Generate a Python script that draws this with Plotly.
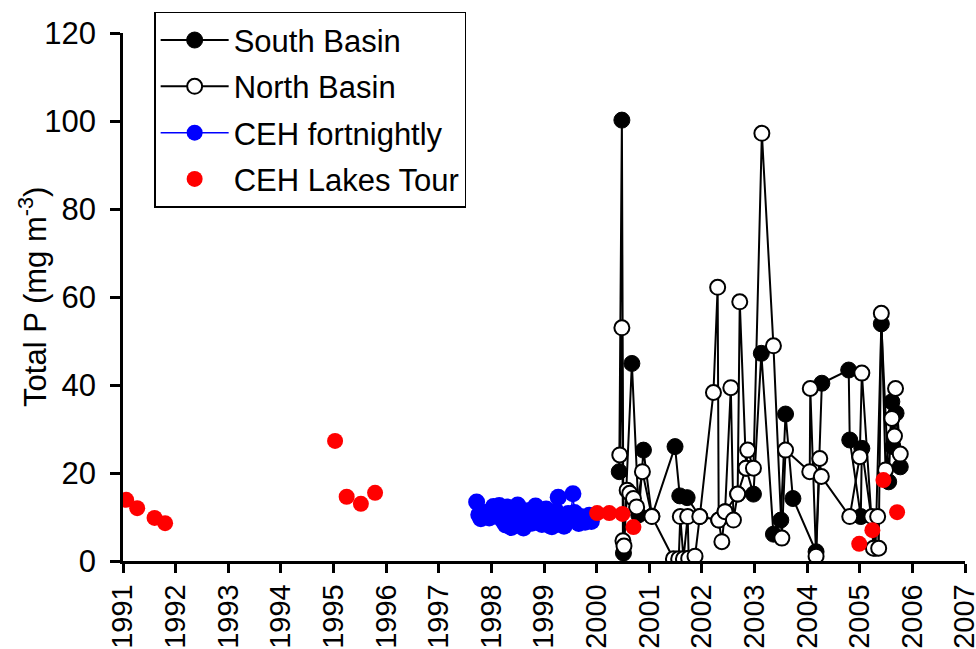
import plotly.graph_objects as go

# South Basin total P (decimal year, mg m-3)
south_year = [2000.43, 2000.48, 2000.51, 2000.67, 2000.80, 2000.89, 2001.05,
              2001.49, 2001.58, 2001.72, 2001.96, 2002.32, 2002.44, 2002.68,
              2002.84, 2002.98, 2003.13, 2003.36, 2003.50, 2003.59, 2003.73,
              2004.17, 2004.28, 2004.79, 2004.81, 2005.02, 2005.04, 2005.30,
              2005.41, 2005.55, 2005.61, 2005.63, 2005.69, 2005.77]
south_tp = [20.3, 100.2, 1.8, 44.9, 10.5, 25.2, 10.2,
            26.0, 14.8, 14.4, 10.1, 9.3, 11.2, 15.2,
            21.1, 15.2, 47.2, 6.1, 9.3, 33.4, 14.2,
            2.1, 40.4, 43.4, 27.5, 10.1, 25.6, 2.9,
            53.9, 18.0, 36.2, 26.0, 33.6, 21.4]

# North Basin total P
north_year = [2000.44, 2000.48, 2000.50, 2000.52, 2000.58, 2000.63, 2000.70,
              2000.76, 2000.87, 2001.05, 2001.46, 2001.56, 2001.59, 2001.65,
              2001.73, 2001.75, 2001.87, 2001.96, 2002.22, 2002.30, 2002.32,
              2002.38, 2002.44, 2002.55, 2002.60, 2002.68, 2002.72, 2002.84,
              2002.87, 2002.98, 2003.14, 2003.36, 2003.52, 2003.59, 2004.05,
              2004.06, 2004.17, 2004.24, 2004.27, 2004.81, 2005.00, 2005.04,
              2005.23, 2005.26, 2005.34, 2005.36, 2005.41, 2005.49, 2005.61,
              2005.66, 2005.68, 2005.77]
north_tp = [24.1, 53.0, 4.6, 3.4, 16.1, 15.4, 14.2,
            12.3, 20.3, 10.1, 0.5, 0.5, 10.1, 0.5,
            10.1, 0.6, 1.1, 10.1, 38.3, 62.2, 9.3,
            4.4, 11.2, 39.4, 9.3, 15.2, 58.9, 21.1,
            25.2, 21.1, 97.2, 48.9, 5.2, 25.2, 20.3,
            39.2, 1.1, 23.3, 19.2, 10.1, 23.7, 42.7,
            10.1, 2.9, 10.1, 2.9, 56.3, 20.7, 32.4,
            28.4, 39.2, 24.3]

# CEH fortnightly sampling
ceh_fn_year = [1997.72, 1997.76, 1997.80, 1997.84, 1997.88, 1997.92, 1997.96,
               1998.00, 1998.04, 1998.07, 1998.11, 1998.15, 1998.19, 1998.23,
               1998.27, 1998.30, 1998.34, 1998.38, 1998.42, 1998.46, 1998.50,
               1998.54, 1998.57, 1998.61, 1998.65, 1998.69, 1998.73, 1998.77,
               1998.80, 1998.84, 1998.88, 1998.92, 1998.96, 1999.00, 1999.04,
               1999.07, 1999.11, 1999.15, 1999.19, 1999.23, 1999.27, 1999.30,
               1999.34, 1999.38, 1999.42, 1999.46, 1999.50, 1999.55, 1999.58,
               1999.62, 1999.66, 1999.70, 1999.74, 1999.78, 1999.82, 1999.86,
               1999.90]
ceh_fn_tp = [13.4, 10.5, 9.6, 10.2, 11.0, 10.4, 9.8,
             11.5, 12.4, 11.2, 10.1, 12.6, 11.8, 9.0,
             8.2, 12.3, 10.7, 7.6, 9.4, 11.9, 12.7,
             10.3, 8.1, 7.5, 9.2, 11.4, 10.0, 8.6,
             9.8, 12.5, 11.1, 9.0, 8.3, 10.6, 11.8,
             9.5, 8.0, 7.8, 9.9, 11.3, 14.5, 10.2,
             8.4, 7.9, 9.1, 10.8, 9.3, 15.3, 11.0,
             9.7, 8.5, 10.1, 9.4, 8.8, 9.6, 10.4,
             9.0]

# CEH Lakes Tour
tour_year = [1991.06, 1991.27, 1991.60, 1991.80,
             1995.03, 1995.25, 1995.52, 1995.79,
             2000.01, 2000.24, 2000.49, 2000.70,
             2004.99, 2005.24, 2005.45, 2005.71]
tour_tp = [13.9, 12.0, 9.8, 8.6,
           27.3, 14.6, 13.0, 15.5,
           10.9, 10.9, 10.7, 7.7,
           3.9, 7.0, 18.4, 11.1]

years = list(range(1991, 2008))
year_labels = [str(y) for y in years]
y_ticks = [0, 20, 40, 60, 80, 100, 120]

FONT = "Liberation Sans, Arial, sans-serif"

fig = go.Figure()
fig.add_trace(go.Scatter(
    x=south_year, y=south_tp, name="South Basin", mode="lines+markers",
    line=dict(color="black", width=2),
    marker=dict(symbol="circle", size=16, color="black",
                line=dict(color="black", width=1)),
    legendgroup="a"))
fig.add_trace(go.Scatter(
    x=north_year, y=north_tp, name="North Basin", mode="lines+markers",
    line=dict(color="black", width=2),
    marker=dict(symbol="circle", size=15, color="white",
                line=dict(color="black", width=2)),
    legendgroup="b"))
fig.add_trace(go.Scatter(
    x=ceh_fn_year, y=ceh_fn_tp, name="CEH fortnightly", mode="lines+markers",
    line=dict(color="#0000ff", width=1.5),
    marker=dict(symbol="circle", size=17, color="#0000ff"),
    legendgroup="c"))
fig.add_trace(go.Scatter(
    x=tour_year, y=tour_tp, name="CEH Lakes Tour", mode="markers",
    marker=dict(symbol="circle", size=16, color="#ff0000"),
    legendgroup="d"))

fig.update_layout(
    width=976, height=649,
    margin=dict(l=123, r=11, t=33, b=88),
    paper_bgcolor="white", plot_bgcolor="white",
    font=dict(family=FONT, size=30, color="black"),
    showlegend=True,
    legend=dict(
        x=0.037, y=1.04, xanchor="left", yanchor="top",
        bgcolor="white", bordercolor="black", borderwidth=1.5,
        font=dict(family=FONT, size=31, color="black"),
        tracegroupgap=3, itemwidth=68,
    ),
    xaxis=dict(
        range=[1991, 2007], tickmode="array", tickvals=years, ticktext=year_labels,
        tickangle=-90, ticks="outside", ticklen=9, tickwidth=2.5, tickcolor="black",
        showline=True, linecolor="black", linewidth=2.5, showgrid=False,
        zeroline=False, ticklabeloverflow="allow", automargin=False,
        tickfont=dict(family=FONT, size=29, color="black"),
    ),
    yaxis=dict(
        range=[0, 120], tickmode="array", tickvals=y_ticks,
        ticks="outside", ticklen=10, tickwidth=2.5, tickcolor="black",
        showline=True, linecolor="black", linewidth=2.5, showgrid=False,
        zeroline=False, ticklabelstandoff=8, automargin=False,
        tickfont=dict(family=FONT, size=31, color="black"),
    ),
    annotations=[dict(
        text="Total P (mg m<sup>-3</sup>)", textangle=-90,
        xref="paper", yref="paper", x=-0.107, y=0.5,
        xanchor="center", yanchor="middle", showarrow=False,
        font=dict(family=FONT, size=31, color="black"),
    )],
)

fig.write_html("out.html")
